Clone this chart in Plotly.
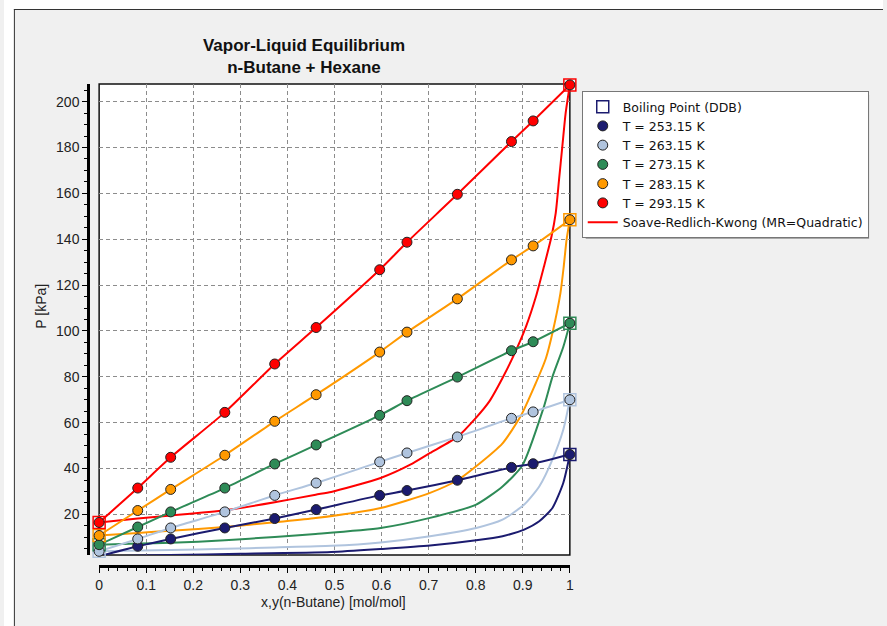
import plotly.graph_objects as go

# ---------------- data ----------------
x_liq = [0, 0.082, 0.152, 0.267, 0.373, 0.461, 0.596, 0.654, 0.761, 0.876, 0.922, 1]

temps = ["253.15", "263.15", "273.15", "283.15", "293.15"]
colors = ["#1b1b6f", "#b0c4de", "#2e8b57", "#ff9900", "#ff0000"]

P_253 = [1.7, 6.1, 9.3, 14.1, 18.2, 22.1, 28.3, 30.4, 34.9, 40.5, 42.1, 46.1]
P_263 = [3.9, 9.3, 14.1, 21.1, 28.3, 33.7, 42.9, 46.8, 53.8, 61.9, 64.7, 70.0]
P_273 = [6.8, 14.5, 21.1, 31.5, 42.0, 50.3, 63.2, 69.6, 79.9, 91.4, 95.3, 103.4]
P_283 = [10.8, 21.7, 30.9, 45.8, 60.6, 72.2, 90.8, 99.5, 114.0, 131.0, 137.1, 148.5]
P_293 = [16.5, 31.5, 44.9, 64.5, 85.6, 101.5, 126.7, 138.7, 159.6, 182.6, 191.6, 207.3]
P_exp = [P_253, P_263, P_273, P_283, P_293]

# boiling points of the pure components (x = 0: hexane, x = 1: n-butane)
bp_x = [0, 0, 0, 0, 0, 1, 1, 1, 1, 1]
bp_P = [1.7, 3.9, 6.8, 10.8, 16.5, 46.1, 70.0, 103.4, 148.5, 207.3]
bp_col = colors + colors

# SRK dew curves (vapour composition)
dew_x_253 = [0, 0.15, 0.3, 0.493, 0.598, 0.703, 0.801, 0.857, 0.903, 0.935, 0.963, 0.986, 1]
dew_P_253 = [1.7, 2.3, 2.8, 3.6, 4.9, 6.4, 8.7, 10.5, 13.4, 17.0, 22.8, 33.7, 46.1]
dew_x_263 = [0, 0.152, 0.267, 0.373, 0.493, 0.598, 0.703, 0.801, 0.857, 0.903, 0.935, 0.963, 0.986, 1]
dew_P_263 = [3.9, 4.5, 5.0, 5.6, 6.3, 7.8, 10.5, 14.1, 17.7, 24.3, 32.2, 43.9, 56.9, 70.0]
dew_x_273 = [0, 0.082, 0.152, 0.267, 0.373, 0.46, 0.598, 0.703, 0.801, 0.857, 0.899, 0.944, 0.963, 0.986, 1]
dew_P_273 = [6.8, 7.3, 7.6, 8.7, 10.2, 11.5, 14.1, 18.5, 24.3, 32.2, 41.3, 66.4, 80.0, 93.0, 103.4]
dew_x_283 = [0, 0.082, 0.152, 0.267, 0.373, 0.46, 0.598, 0.703, 0.761, 0.801, 0.857, 0.896,
             0.925, 0.949, 0.964, 0.980, 0.987, 0.993, 1]
dew_P_283 = [10.8, 11.9, 12.9, 14.5, 16.6, 18.4, 22.8, 29.4, 34.9, 41.0, 51.0, 63.0,
             76.0, 88.0, 100.0, 116.5, 128.1, 139.7, 148.5]
dew_x_293 = [0, 0.082, 0.152, 0.267, 0.373, 0.46, 0.493, 0.598, 0.661, 0.703, 0.761, 0.80,
             0.829, 0.857, 0.88, 0.907, 0.928, 0.945, 0.961, 0.970, 0.977, 0.984, 0.991, 1]
dew_P_293 = [16.5, 18.2, 19.5, 21.8, 25.3, 28.6, 29.8, 35.9, 41.7, 46.8, 53.8, 62.0,
             69.3, 79.5, 89.0, 102.0, 115.0, 128.1, 141.2, 151.4, 165.9, 180.4, 194.9, 207.3]
dew_x = [dew_x_253, dew_x_263, dew_x_273, dew_x_283, dew_x_293]
dew_P = [dew_P_253, dew_P_263, dew_P_273, dew_P_283, dew_P_293]

# ---------------- figure ----------------
W, H = 887, 626
def px(v):
    return v / W
def py(v):
    return 1 - v / H

FONT = "Liberation Sans, Arial, sans-serif"
LFONT = "DejaVu Sans, Verdana, sans-serif"
fig = go.Figure()

# model curves
for i, c in enumerate(colors):
    fig.add_trace(go.Scatter(x=dew_x[i], y=dew_P[i], mode="lines",
                             line=dict(color=c, width=2, shape="spline", smoothing=0.6),
                             showlegend=False, hoverinfo="skip"))
for i, c in enumerate(colors):
    fig.add_trace(go.Scatter(x=x_liq, y=P_exp[i], mode="lines",
                             line=dict(color=c, width=2, shape="spline", smoothing=0.6),
                             name="Soave-Redlich-Kwong (MR=Quadratic)",
                             showlegend=(i == 4), legendrank=7, hoverinfo="skip"))

# boiling points
fig.add_trace(go.Scatter(x=bp_x, y=bp_P, mode="markers", name="Boiling Point (DDB)",
                         marker=dict(symbol="square-open", size=12, color=bp_col,
                                     line=dict(width=1.5)),
                         legendrank=1, cliponaxis=False))

# experimental points
for i, c in enumerate(colors):
    fig.add_trace(go.Scatter(x=x_liq, y=P_exp[i], mode="markers",
                             name=f"T = {temps[i]} K",
                             marker=dict(symbol="circle", size=10, color=c,
                                         line=dict(color="#222222", width=1)),
                             legendrank=2 + i, cliponaxis=False))

x0p, x1p, ytop, ybot = 96, 571, 84, 555
LX = 583
fig.update_layout(
    width=W, height=H,
    margin=dict(l=0, r=0, t=0, b=0),
    paper_bgcolor="#f0f0f0",
    plot_bgcolor="#ffffff",
    font=dict(family=FONT, color="#222222", size=14),
    title=dict(text="<b>Vapor-Liquid Equilibrium<br>n-Butane + Hexane</b>",
               x=px(304), xanchor="center", y=py(51), yanchor="middle",
               font=dict(family=FONT, size=17, color="#111111")),
    xaxis=dict(domain=[px(x0p), px(x1p)], range=[0, 1], anchor="free", position=py(566),
               dtick=0.1, tick0=0, showline=True, linecolor="black", linewidth=3,
               ticks="outside", ticklen=5, tickcolor="black", tickwidth=1,
               showgrid=True, gridcolor="#8c8c8c", griddash="4px,3px", gridwidth=1,
               zeroline=False, tickfont=dict(size=14),
               minor=dict(dtick=0.02, ticks="outside", ticklen=3, tickcolor="black",
                          showgrid=False)),
    yaxis=dict(domain=[py(ybot), py(ytop)], range=[2.3, 207.7], anchor="free", position=px(85),
               dtick=20, tick0=0, showline=True, linecolor="black", linewidth=3,
               ticks="outside", ticklen=5, tickcolor="black", tickwidth=1,
               showgrid=True, gridcolor="#8c8c8c", griddash="4px,3px", gridwidth=1,
               zeroline=False, tickfont=dict(size=14),
               minor=dict(dtick=5, ticks="outside", ticklen=3, tickcolor="black",
                          showgrid=False)),
    legend=dict(x=px(LX), y=py(91), xanchor="left", yanchor="top",
                bgcolor="#ffffff", bordercolor="#777777", borderwidth=1,
                font=dict(family=LFONT, size=12.5, color="#111111"),
                traceorder="normal", itemwidth=30),
    showlegend=True,
    shapes=[
        # white band outside the chart panel
        dict(type="rect", xref="paper", yref="paper", x0=0, x1=1, y0=py(9), y1=1,
             fillcolor="white", line=dict(width=0), layer="below"),
        dict(type="rect", xref="paper", yref="paper", x0=0, x1=px(10), y0=0, y1=1,
             fillcolor="white", line=dict(width=0), layer="below"),
        dict(type="line", xref="paper", yref="paper", x0=px(10), x1=1, y0=py(9.5), y1=py(9.5),
             line=dict(color="#333333", width=1), layer="below"),
        dict(type="line", xref="paper", yref="paper", x0=px(10.5), x1=px(10.5), y0=0, y1=py(9),
             line=dict(color="#333333", width=1), layer="below"),
        # legend drop shadow
        dict(type="rect", xref="paper", yref="paper", x0=px(587), x1=px(873), y0=py(239), y1=py(95),
             fillcolor="#a9a9a9", line=dict(width=0), layer="below"),
        # plot frame
        dict(type="rect", xref="x domain", yref="y domain", x0=0, x1=1, y0=0, y1=1,
             line=dict(color="#111111", width=1.5), layer="below"),
    ],
    annotations=[
        dict(text="x,y(n-Butane) [mol/mol]", xref="paper", yref="paper",
             x=px(333), y=py(602), xanchor="center", yanchor="middle", showarrow=False,
             font=dict(family=FONT, size=14, color="#222222")),
        dict(text="P [kPa]", xref="paper", yref="paper", textangle=-90,
             x=px(37), y=py(306), xanchor="center", yanchor="middle", showarrow=False,
             font=dict(family=FONT, size=14, color="#222222")),
    ],
)

post = """
document.documentElement.style.margin='0';
document.body.style.margin='0';
document.body.style.overflow='hidden';
"""
fig.write_html("out.html", post_script=post, config={"displayModeBar": False})
